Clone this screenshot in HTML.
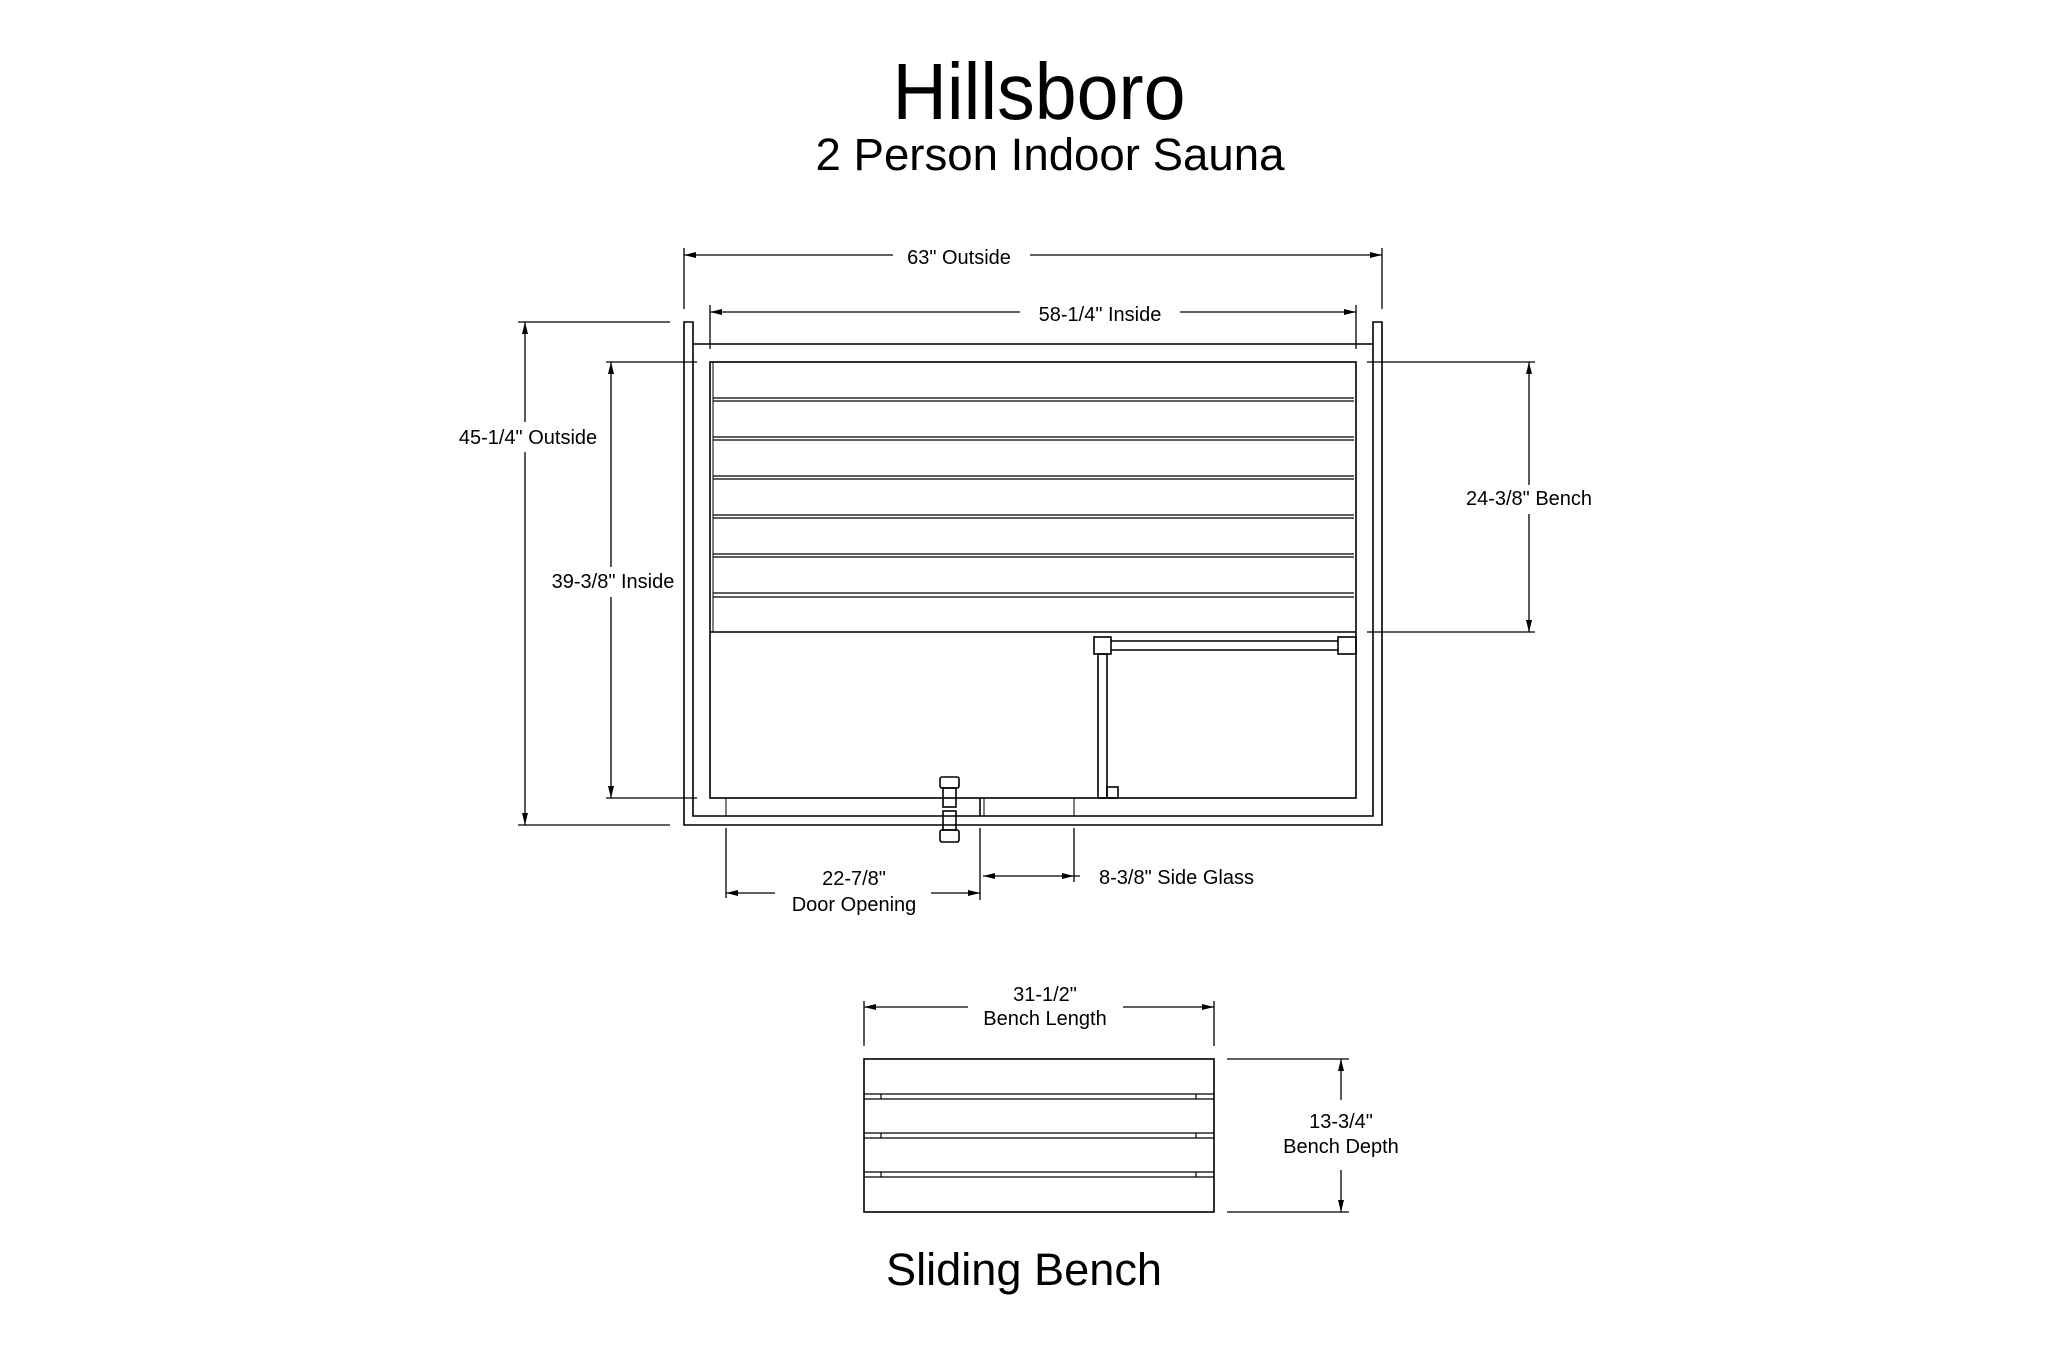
<!DOCTYPE html>
<html><head><meta charset="utf-8"><style>
html,body{margin:0;padding:0;background:#fff;}
svg{display:block;}
text{font-family:"Liberation Sans",Arial,sans-serif;fill:#000;}
</style></head><body>
<svg width="2048" height="1365" viewBox="0 0 2048 1365" xmlns="http://www.w3.org/2000/svg">
<rect width="2048" height="1365" fill="#fff"/>
<text x="1039" y="119" font-size="80" text-anchor="middle" textLength="293" lengthAdjust="spacingAndGlyphs">Hillsboro</text>
<text x="1050" y="170" font-size="45" text-anchor="middle" textLength="469" lengthAdjust="spacingAndGlyphs">2 Person Indoor Sauna</text>

<g stroke="#000" stroke-width="1.6" fill="none">
<!-- walls -->
<path d="M684,322 V825 H1382 V322 H1373 V816 H693 V322 Z"/>
<line x1="693" y1="344" x2="1373" y2="344"/>
<!-- inner rect -->
<rect x="710" y="362" width="646" height="436"/>
<line x1="713" y1="362" x2="713" y2="632" stroke-width="1"/>
<!-- slats -->
<g stroke-width="1.3">
<line x1="713" y1="398" x2="1354" y2="398"/><line x1="713" y1="401" x2="1354" y2="401"/>
<line x1="713" y1="437" x2="1354" y2="437"/><line x1="713" y1="440" x2="1354" y2="440"/>
<line x1="713" y1="476" x2="1354" y2="476"/><line x1="713" y1="479" x2="1354" y2="479"/>
<line x1="713" y1="515" x2="1354" y2="515"/><line x1="713" y1="518" x2="1354" y2="518"/>
<line x1="713" y1="554" x2="1354" y2="554"/><line x1="713" y1="557" x2="1354" y2="557"/>
<line x1="713" y1="593" x2="1354" y2="593"/><line x1="713" y1="597" x2="1354" y2="597"/>
</g>
<line x1="710" y1="632" x2="1356" y2="632"/>
<!-- glass -->
<rect x="1094" y="637" width="17" height="17"/>
<rect x="1338" y="637" width="18" height="17"/>
<line x1="1111" y1="641" x2="1338" y2="641"/>
<line x1="1111" y1="650" x2="1338" y2="650"/>
<rect x="1098" y="654" width="9" height="144"/>
<rect x="1107" y="787" width="11" height="11"/>
<!-- bottom details -->
<line x1="726" y1="798" x2="726" y2="816" stroke-width="1"/>
<line x1="980" y1="798" x2="980" y2="816"/>
<line x1="984" y1="798" x2="984" y2="816" stroke-width="1"/>
<line x1="1074" y1="798" x2="1074" y2="816" stroke-width="1"/>
<!-- hinge -->
<rect x="940" y="777" width="19" height="11" rx="2"/>
<rect x="943" y="788" width="13" height="19"/>
<rect x="943" y="811" width="13" height="19"/>
<rect x="940" y="830" width="19" height="12" rx="2"/>

<!-- dims top -->
<g stroke-width="1.3">
<line x1="684" y1="248" x2="684" y2="309"/>
<line x1="1382" y1="248" x2="1382" y2="309"/>
<line x1="684" y1="255" x2="893" y2="255"/><line x1="1030" y1="255" x2="1382" y2="255"/>
<line x1="710" y1="305" x2="710" y2="349"/>
<line x1="1356" y1="305" x2="1356" y2="349"/>
<line x1="710" y1="312" x2="1020" y2="312"/><line x1="1180" y1="312" x2="1356" y2="312"/>
<!-- left dims -->
<line x1="518" y1="322" x2="670" y2="322"/>
<line x1="518" y1="825" x2="670" y2="825"/>
<line x1="525" y1="322" x2="525" y2="422"/><line x1="525" y1="452" x2="525" y2="825"/>
<line x1="606" y1="362" x2="697" y2="362"/>
<line x1="606" y1="798" x2="697" y2="798"/>
<line x1="611" y1="362" x2="611" y2="567"/><line x1="611" y1="597" x2="611" y2="798"/>
<!-- right dim -->
<line x1="1367" y1="362" x2="1535" y2="362"/>
<line x1="1367" y1="632" x2="1535" y2="632"/>
<line x1="1529" y1="362" x2="1529" y2="485"/><line x1="1529" y1="514" x2="1529" y2="632"/>
<!-- door dims -->
<line x1="726" y1="828" x2="726" y2="898"/>
<line x1="980" y1="828" x2="980" y2="900"/>
<line x1="1074" y1="828" x2="1074" y2="882"/>
<line x1="726" y1="893" x2="775" y2="893"/><line x1="931" y1="893" x2="980" y2="893"/>
<line x1="983" y1="876" x2="1080" y2="876"/>
<!-- bench -->
<line x1="864" y1="1001" x2="864" y2="1046"/>
<line x1="1214" y1="1001" x2="1214" y2="1046"/>
<line x1="864" y1="1007" x2="968" y2="1007"/><line x1="1123" y1="1007" x2="1214" y2="1007"/>
<line x1="1227" y1="1059" x2="1349" y2="1059"/>
<line x1="1227" y1="1212" x2="1349" y2="1212"/>
<line x1="1341" y1="1059" x2="1341" y2="1100"/><line x1="1341" y1="1170" x2="1341" y2="1212"/>
</g>
<rect x="864" y="1059" width="350" height="153"/>
<g stroke-width="1.2">
<line x1="864" y1="1094" x2="1214" y2="1094"/><line x1="864" y1="1099" x2="1214" y2="1099"/>
<line x1="864" y1="1133" x2="1214" y2="1133"/><line x1="864" y1="1138" x2="1214" y2="1138"/>
<line x1="864" y1="1172" x2="1214" y2="1172"/><line x1="864" y1="1177" x2="1214" y2="1177"/>
<line x1="881" y1="1094" x2="881" y2="1099"/><line x1="1196" y1="1094" x2="1196" y2="1099"/>
<line x1="881" y1="1133" x2="881" y2="1138"/><line x1="1196" y1="1133" x2="1196" y2="1138"/>
<line x1="881" y1="1172" x2="881" y2="1177"/><line x1="1196" y1="1172" x2="1196" y2="1177"/>
</g>
</g>

<!-- arrowheads -->
<g fill="#000">
<path d="M684,255 l12,-3 v6z"/><path d="M1382,255 l-12,-3 v6z"/>
<path d="M710,312 l12,-3 v6z"/><path d="M1356,312 l-12,-3 v6z"/>
<path d="M525,322 l-3,12 h6z"/><path d="M525,825 l-3,-12 h6z"/>
<path d="M611,362 l-3,12 h6z"/><path d="M611,798 l-3,-12 h6z"/>
<path d="M1529,362 l-3,12 h6z"/><path d="M1529,632 l-3,-12 h6z"/>
<path d="M726,893 l12,-3 v6z"/><path d="M980,893 l-12,-3 v6z"/>
<path d="M983,876 l12,-3 v6z"/><path d="M1074,876 l-12,-3 v6z"/>
<path d="M864,1007 l12,-3 v6z"/><path d="M1214,1007 l-12,-3 v6z"/>
<path d="M1341,1059 l-3,12 h6z"/><path d="M1341,1212 l-3,-12 h6z"/>
</g>

<g font-size="20">
<text x="959" y="264" text-anchor="middle">63" Outside</text>
<text x="1100" y="321" text-anchor="middle">58-1/4" Inside</text>
<text x="528" y="444" text-anchor="middle">45-1/4" Outside</text>
<text x="613" y="588" text-anchor="middle">39-3/8" Inside</text>
<text x="1529" y="505" text-anchor="middle">24-3/8" Bench</text>
<text x="854" y="885" text-anchor="middle">22-7/8"</text>
<text x="854" y="911" text-anchor="middle">Door Opening</text>
<text x="1099" y="884">8-3/8" Side Glass</text>
<text x="1045" y="1001" text-anchor="middle">31-1/2"</text>
<text x="1045" y="1025" text-anchor="middle">Bench Length</text>
<text x="1341" y="1128" text-anchor="middle">13-3/4"</text>
<text x="1341" y="1153" text-anchor="middle">Bench Depth</text>
</g>
<text x="1024" y="1285" font-size="45" text-anchor="middle" textLength="276" lengthAdjust="spacingAndGlyphs">Sliding Bench</text>
</svg>
</body></html>
